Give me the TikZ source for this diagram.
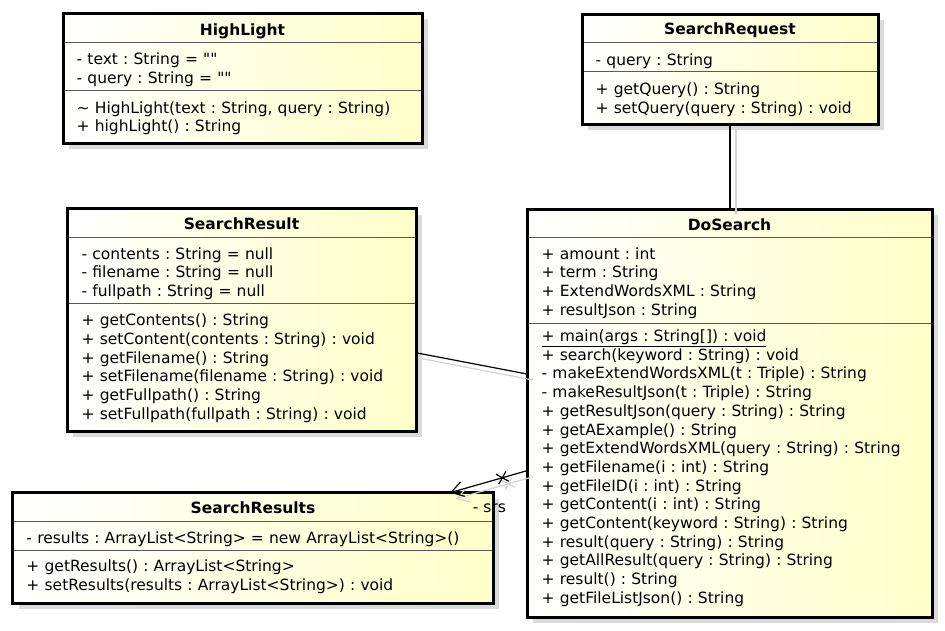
\documentclass[tikz,border=0pt]{standalone}
\usepackage{fontspec}
\setmainfont{DejaVu Sans}[Ligatures=TeXOff]
\frenchspacing
\usetikzlibrary{arrows.meta,shapes.misc}
\definecolor{boxyellow}{RGB}{255,255,200}
\definecolor{shadowgray}{RGB}{218,218,218}
\definecolor{lineshadow}{RGB}{212,212,212}
\tikzset{
  classbox/.style={draw=black, line width=3pt, left color=white, right color=boxyellow, inner sep=0pt, outer sep=0pt},
  boxshadow/.style={fill=shadowgray, draw=none},
  sepline/.style={draw=black!65, line width=1pt},
  titletext/.style={font=\bfseries\fontsize{15.5}{18.7}\selectfont, anchor=base, inner sep=0pt},
  rowtext/.style={font=\fontsize{15.5}{18.7}\selectfont\frenchspacing, anchor=base west, inner sep=0pt, text width=450pt, align=left},
  labeltext/.style={font=\fontsize{15.5}{18.7}\selectfont, anchor=base west, inner sep=0pt},
  conn/.style={draw=black, line width=1.2pt},
  connshadow/.style={draw=lineshadow, line width=1.2pt, transform canvas={xshift=6pt,yshift=-6pt}},
  navtip/.style={-{Straight Barb[length=12pt,width=15pt]}},
  xmark/.style={cross out, draw, sloped, inner sep=0pt, minimum size=9pt, line width=1.2pt},
}
\begin{document}
\begin{tikzpicture}[x=1pt,y=-1pt]
\useasboundingbox (0,0) rectangle (945,630);
\fill[white] (0,0) rectangle (945,630);

% ---------- HighLight ----------
\fill[boxshadow] (69,19) rectangle (428,149);
\node[classbox, minimum width=359pt, minimum height=130pt] (hl) at (242.5,78) {};
\draw[sepline] (64.5,42.3) -- (420.5,42.3);
\draw[sepline] (64.5,90) -- (420.5,90);
\node[titletext] (hlt) at (242.5,35) {HighLight};
\node[rowtext] (hla) at (76.5,64.3) {- text : String = ""\\- query : String = ""};
\node[rowtext] (hlo) at (76.5,113) {\textasciitilde{} HighLight(text : String, query : String)\\+ highLight() : String};

% ---------- SearchRequest ----------
\fill[boxshadow] (588,20) rectangle (884,130);
\node[classbox, minimum width=296pt, minimum height=110pt] (sreq) at (730,69) {};
\draw[sepline] (583.5,42.7) -- (876.5,42.7);
\draw[sepline] (583.5,71.7) -- (876.5,71.7);
\node[titletext] (sreqt) at (730,34.3) {SearchRequest};
\node[rowtext] (sreqa) at (595.5,65) {- query : String};
\node[rowtext] (sreqo) at (595.5,94.3) {+ getQuery() : String\\+ setQuery(query : String) : void};

% ---------- SearchResult ----------
\fill[boxshadow] (73,214.5) rectangle (422,437);
\node[classbox, minimum width=349pt, minimum height=222.5pt] (sres) at (241.5,319.75) {};
\draw[sepline] (68.5,237.3) -- (414.5,237.3);
\draw[sepline] (68.5,303.3) -- (414.5,303.3);
\node[titletext] (srest) at (241.5,229.3) {SearchResult};
\node[rowtext] (sresa) at (81.5,259) {- contents : String = null\\- filename : String = null\\- fullpath : String = null};
\node[rowtext] (sreso) at (81.5,325.7) {+ getContents() : String\\+ setContent(contents : String) : void\\+ getFilename() : String\\+ setFilename(filename : String) : void\\+ getFullpath() : String\\+ setFullpath(fullpath : String) : void};

% ---------- DoSearch ----------
\fill[boxshadow] (533,215) rectangle (938,623);
\node[classbox, minimum width=405pt, minimum height=408pt] (ds) at (729.5,413) {};
\draw[sepline] (528.5,237.3) -- (930.5,237.3);
\draw[sepline] (528.5,323.3) -- (930.5,323.3);
\node[titletext] (dst) at (729.5,230.7) {DoSearch};
\node[rowtext] (dsa) at (541.5,259) {+ amount : int\\+ term : String\\+ ExtendWordsXML : String\\+ resultJson : String};
\node[rowtext] (dso) at (541.5,341.5) {\underline{+ main(args : String[]) : void}\\+ search(keyword : String) : void\\- makeExtendWordsXML(t : Triple) : String\\- makeResultJson(t : Triple) : String\\+ getResultJson(query : String) : String\\+ getAExample() : String\\+ getExtendWordsXML(query : String) : String\\+ getFilename(i : int) : String\\+ getFileID(i : int) : String\\+ getContent(i : int) : String\\+ getContent(keyword : String) : String\\+ result(query : String) : String\\+ getAllResult(query : String) : String\\+ result() : String\\+ getFileListJson() : String};

% ---------- SearchResults ----------
\fill[boxshadow] (18.7,498.7) rectangle (499.3,609.3);
\node[classbox, minimum width=480.6pt, minimum height=110.6pt] (srs) at (253,548) {};
\draw[sepline] (14.2,521.7) -- (491.8,521.7);
\draw[sepline] (14.2,550.7) -- (491.8,550.7);
\node[titletext] (srst) at (253,513.3) {SearchResults};
\node[rowtext] (srsa) at (26.3,543.3) {- results : ArrayList<String> = new ArrayList<String>()};
\node[rowtext] (srso) at (26.3,571.7) {+ getResults() : ArrayList<String>\\+ setResults(results : ArrayList<String>) : void};

% ---------- connector shadows ----------
\draw[connshadow] (sreq.south) -- (sreq.south |- ds.north);
\draw[connshadow] ([yshift=-33pt]sres.east) -- ([yshift=39pt]ds.west);
\draw[connshadow, navtip] ([yshift=-57.7pt]ds.west) -- ([xshift=197pt]srs.north)
  node[xmark, draw=lineshadow, pos=0.32] (xms) {};

% ---------- connectors ----------
\draw[conn] (sreq.south) -- (sreq.south |- ds.north);
\draw[conn] ([yshift=-33pt]sres.east) -- ([yshift=39pt]ds.west);
\draw[conn, navtip] ([yshift=-57.7pt]ds.west) -- ([xshift=197pt]srs.north)
  node[xmark, pos=0.32] (xm) {};
\node[labeltext] (srslabel) at (472.7,512.3) {- srs};
\end{tikzpicture}
\end{document}
